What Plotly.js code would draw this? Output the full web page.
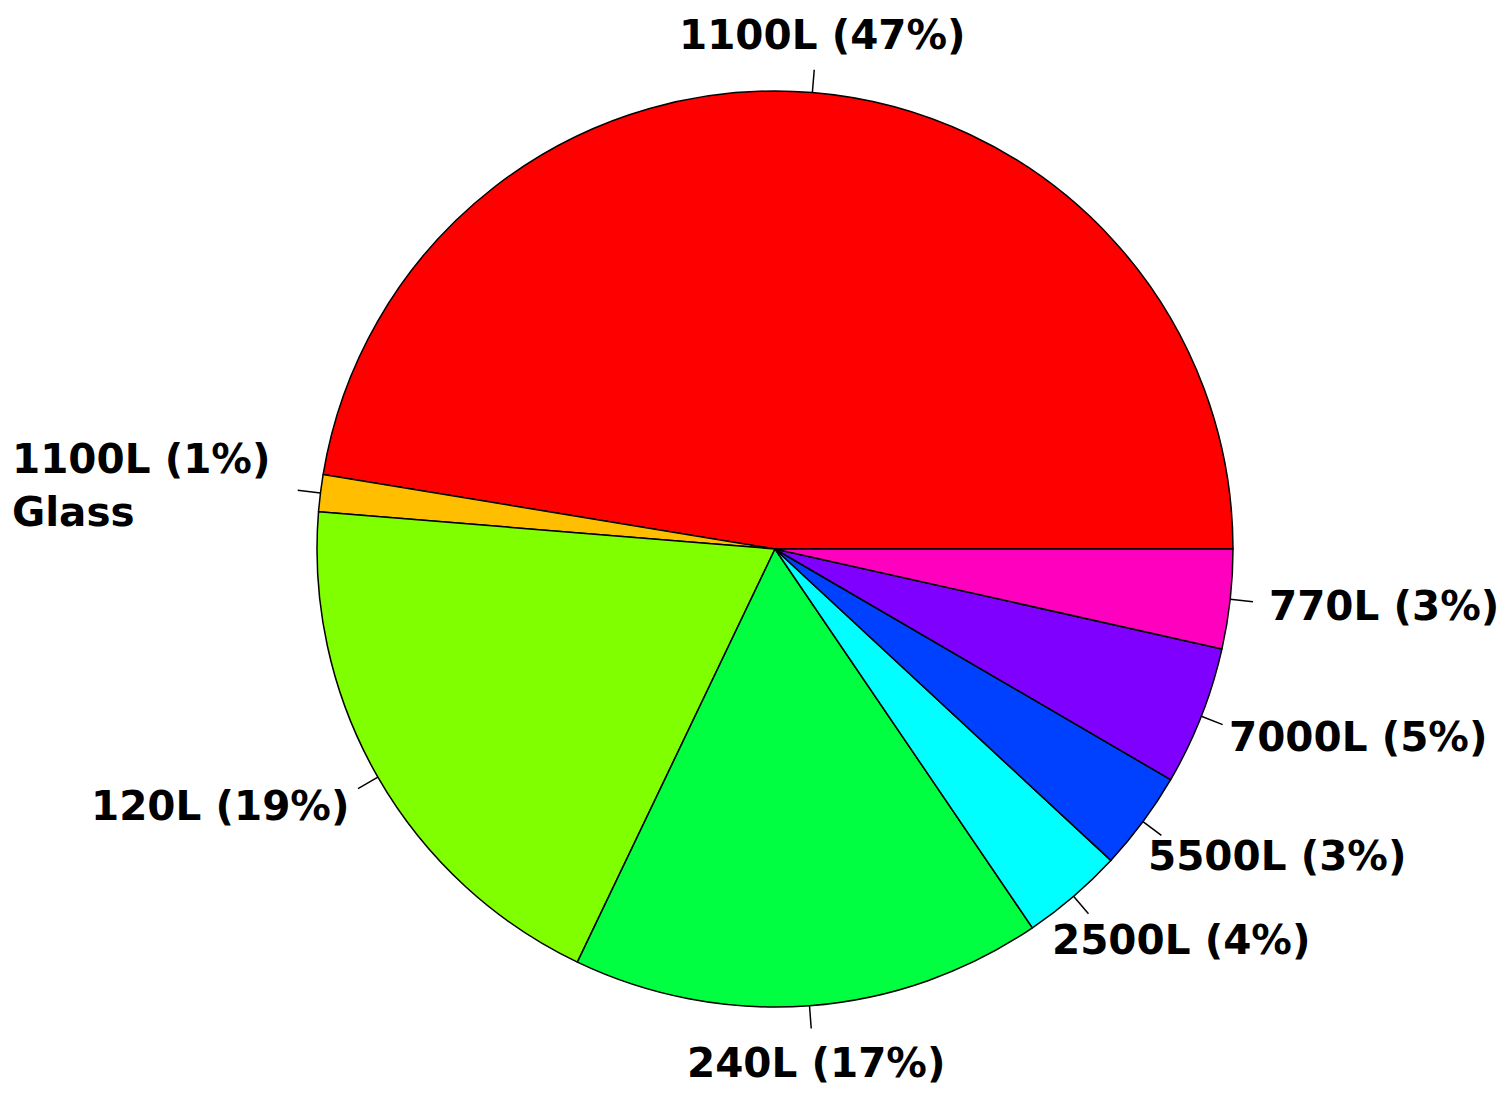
<!DOCTYPE html>
<html>
<head>
<meta charset="utf-8">
<script src="https://cdn.plot.ly/plotly-3.0.1.min.js"></script>
<style>
  body { margin: 0; background: #fff; }
  #chart { width: 1508px; height: 1112px; }
</style>
</head>
<body>
<div id="chart"></div>
<script>
// container types and their share of total volume (%)
let labels = ["1100L (47%)", "1100L (1%)<br>Glass", "120L (19%)", "240L (17%)",
              "2500L (4%)", "5500L (3%)", "7000L (5%)", "770L (3%)"]
let shares = [47.4, 1.3, 19.2, 16.6, 3.6, 3.5, 4.9, 3.5]
let colors = ["#FF0000", "#FFBF00", "#80FF00", "#00FF40",
              "#00FFFF", "#0040FF", "#8000FF", "#FF00BF"]

let fontSize = 40.5
let fontFamily = "DejaVu Sans"

// measure widest line of a label so it can be placed like R's pie labels
let ctx = document.createElement("canvas").getContext("2d")
ctx.font = "bold " + fontSize + "px '" + fontFamily + "'"
function textWidth(s) {
    let w = 0
    s.split("<br>").forEach(line => {
        w = Math.max(w, ctx.measureText(line).width)
    })
    return w
}

let total = shares.reduce((a, b) => a + b, 0)
let annotations = []
let shapes = []
let start = 0
shares.forEach((v, i) => {
    let mid = (start + v / 2) / total * 2 * Math.PI
    start += v
    let c = Math.cos(mid)
    let s = Math.sin(mid)
    // tick mark from the rim out to 1.05 r (pie domain is square, r = 0.5 paper)
    shapes.push({
        type: "line", xref: "paper", yref: "paper",
        x0: 0.5 + 0.5 * c, y0: 0.5 + 0.5 * s,
        x1: 0.5 + 0.525 * c, y1: 0.5 + 0.525 * s,
        line: {color: "black", width: 1.5}
    })
    let hjust = (1 - c) / 2
    annotations.push({
        xref: "paper", yref: "paper",
        x: 0.5 + 0.55 * c, y: 0.5 + 0.55 * s,
        text: labels[i], showarrow: false,
        xanchor: "left", yanchor: "middle", align: "left",
        xshift: -hjust * textWidth(labels[i]) - 8,
        yshift: s * 12,
        font: {family: fontFamily, size: fontSize, color: "black", weight: "bold"}
    })
})

// plotly: counterclockwise pies end the first slice at `rotation`,
// so shift it so the first slice starts at 3 o'clock like R
let rotation = 90 - 360 * shares[0] / total

let data = [{
    type: "pie",
    values: shares,
    labels: labels,
    sort: false,
    direction: "counterclockwise",
    rotation: rotation,
    textinfo: "none",
    hoverinfo: "skip",
    showlegend: false,
    marker: {colors: colors, line: {color: "black", width: 1.5}}
}]

let layout = {
    width: 1508,
    height: 1112,
    margin: {l: 317, r: 275, t: 91, b: 105},
    paper_bgcolor: "white",
    annotations: annotations,
    shapes: shapes
}

Plotly.newPlot("chart", data, layout, {staticPlot: true})
</script>
</body>
</html>
